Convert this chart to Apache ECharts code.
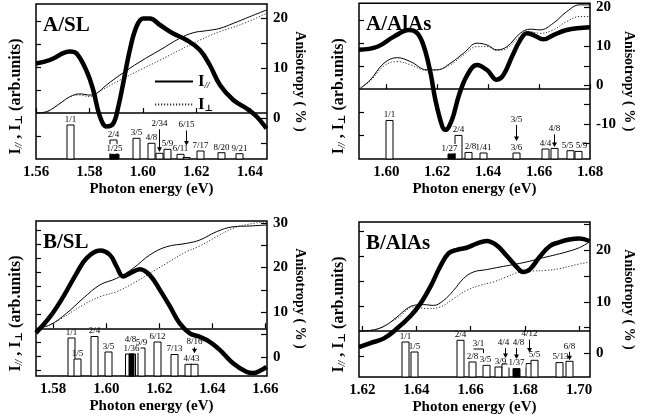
<!DOCTYPE html>
<html>
<head>
<meta charset="utf-8">
<script src="https://cdn.jsdelivr.net/npm/echarts@6/dist/echarts.min.js"></script>
<style>
html, body { margin: 0; padding: 0; background: #fff; }
#chart { width: 657px; height: 420px; }
</style>
</head>
<body>
<div id="chart"></div>
<script>
var FONT = '"Liberation Serif", "DejaVu Serif", serif';

// ---------- A/SL ----------
var aslAniso = [[1.5600,10.9],[1.5652,11.6],[1.5727,13.3],[1.5752,12.9],[1.5790,9.3],[1.5814,5.6],[1.5839,0.3],[1.5864,-1.7],[1.5889,-1.1],[1.5908,2.3],[1.5926,6.9],[1.5951,13.6],[1.5976,18.3],[1.6001,19.9],[1.6026,19.9],[1.6064,18.6],[1.6113,16.9],[1.6163,15.6],[1.6213,13.6],[1.6250,10.6],[1.6288,6.6],[1.6338,3.6],[1.6388,1.9],[1.6425,0.3],[1.6462,-2.1]];
var aslIpar = [[1.5600,0],[1.5640,0.06],[1.5690,0.42],[1.5727,0.71],[1.5764,0.83],[1.5802,0.78],[1.5827,0.86],[1.5864,1.22],[1.5914,1.65],[1.5989,2.23],[1.6064,2.74],[1.6138,3.25],[1.6188,3.49],[1.6238,3.58],[1.6288,3.68],[1.6338,3.90],[1.6400,4.19],[1.6462,4.48]];
var aslIperp = [[1.5600,0],[1.5640,0.06],[1.5727,0.70],[1.5764,0.78],[1.5802,0.71],[1.5839,0.95],[1.5914,1.43],[1.5989,1.87],[1.6064,2.30],[1.6138,2.74],[1.6213,3.17],[1.6288,3.54],[1.6363,3.83],[1.6462,4.33]];
var aslBarName = ['1/1','2/4','1/25','3/5','4/8','2/34','5/9','6/11','6/15','7/17','8/20','9/21'];
var aslBarE = [1.5728,1.5887,1.5890,1.5975,1.6030,1.6059,1.6091,1.6137,1.6160,1.6214,1.6293,1.6358];
var aslBarH = [34,19,4.7,20.7,15.7,5.7,9.7,4.7,1.5,8,6.3,5.3];
var aslFilled = ['1/25'];

// ---------- A/AlAs ----------
var aalAniso = [[1.5893,9.1],[1.5965,9.9],[1.6030,12.5],[1.6089,14.2],[1.6122,13.4],[1.6148,9.9],[1.6174,3.1],[1.6193,-3.8],[1.6220,-10.6],[1.6232,-11.5],[1.6258,-8.9],[1.6284,-2.9],[1.6318,2.6],[1.6356,5.2],[1.6396,3.9],[1.6434,1.4],[1.6460,2.6],[1.6494,7.4],[1.6526,11.6],[1.6552,13.4],[1.6578,12.9],[1.6618,11.8],[1.6656,12.9],[1.6708,14.2],[1.6800,14.9]];
var aalIpar = [[1.5893,0],[1.5937,0.40],[1.5991,1.13],[1.6043,1.37],[1.6095,1.20],[1.6160,0.84],[1.6200,0.84],[1.6252,1.13],[1.6304,1.57],[1.6356,2.00],[1.6396,1.92],[1.6434,1.71],[1.6474,1.85],[1.6526,2.43],[1.6565,2.61],[1.6604,2.58],[1.6656,2.87],[1.6708,3.37],[1.6760,3.67],[1.6800,3.67]];
var aalIperp = [[1.5893,0],[1.5937,0.35],[1.5991,1.01],[1.6043,1.20],[1.6095,1.06],[1.6160,0.81],[1.6200,0.84],[1.6252,1.06],[1.6304,1.49],[1.6356,1.85],[1.6396,1.85],[1.6434,1.68],[1.6474,1.78],[1.6526,2.29],[1.6565,2.50],[1.6604,2.43],[1.6656,2.58],[1.6708,2.94],[1.6760,3.16],[1.6800,3.16]];
var aalBarName = ['1/1','1/27','2/4','2/8','1/41','3/6','3/5','4/4','4/8','5/5','5/9'];
var aalBarE = [1.6011,1.6254,1.6283,1.6320,1.6381,1.6509,1.6509,1.6625,1.6660,1.6721,1.6753];
var aalBarH = [38.6,5,23.6,6.6,6,6,0,10,10.6,8.3,7.6];
var aalFilled = ['1/27'];

// ---------- B/SL ----------
var bslAniso = [[1.5735,5.4],[1.5788,9.0],[1.5838,13.5],[1.5888,18.7],[1.5926,22.1],[1.5976,23.8],[1.6014,22.8],[1.6039,20.2],[1.6064,18.0],[1.6089,18.7],[1.6127,19.6],[1.6164,18.3],[1.6202,15.0],[1.6240,11.3],[1.6277,7.5],[1.6315,5.3],[1.6353,4.5],[1.6390,3.4],[1.6428,1.6],[1.6478,-1.4],[1.6528,-3.3],[1.6553,-3.6],[1.6585,-2.9],[1.6604,-2.2]];
var bslIpar = [[1.5735,0],[1.5788,0.17],[1.5850,0.75],[1.5913,1.50],[1.5976,2.17],[1.6039,2.50],[1.6101,3.00],[1.6164,3.67],[1.6227,4.08],[1.6302,4.25],[1.6353,4.42],[1.6415,4.83],[1.6478,5.08],[1.6541,5.12],[1.6604,5.17]];
var bslIperp = [[1.5735,0],[1.5788,0.17],[1.5913,1.17],[1.5976,1.58],[1.6039,1.83],[1.6101,2.25],[1.6164,2.75],[1.6227,3.25],[1.6302,3.83],[1.6353,4.12],[1.6415,4.58],[1.6478,5.00],[1.6541,5.22],[1.6604,5.33]];
var bslBarName = ['1/1','1/5','2/4','3/5','4/8','1/36','5/9','6/12','7/13','4/43','8/16'];
var bslBarE = [1.5866,1.5889,1.5954,1.6008,1.6090,1.6092,1.6131,1.6190,1.6254,1.6308,1.6332];
var bslBarH = [38,17,39.5,24,22,22,28,34,21.5,11.7,11.7];
var bslFilled = ['1/36'];

// ---------- B/AlAs ----------
var balAniso = [[1.6188,1.2],[1.6230,2.0],[1.6280,2.9],[1.6328,4.8],[1.6377,7.2],[1.6414,9.6],[1.6451,12.9],[1.6487,16.8],[1.6518,19.4],[1.6549,20.1],[1.6585,20.5],[1.6622,21.3],[1.6659,21.8],[1.6695,21.0],[1.6732,19.0],[1.6769,16.8],[1.6793,15.8],[1.6818,16.3],[1.6854,18.7],[1.6891,20.8],[1.6928,21.6],[1.6964,22.1],[1.7001,22.3],[1.7038,21.8]];
var balIpar = [[1.6188,0],[1.6230,0.03],[1.6280,0.23],[1.6328,0.70],[1.6365,1.12],[1.6390,1.28],[1.6427,1.32],[1.6463,1.28],[1.6500,1.53],[1.6537,2.03],[1.6573,2.62],[1.6610,2.95],[1.6659,3.07],[1.6708,3.20],[1.6757,3.32],[1.6805,3.45],[1.6854,3.62],[1.6903,3.78],[1.6952,3.95],[1.7001,4.17],[1.7038,4.45]];
var balIperp = [[1.6188,0],[1.6230,0.03],[1.6328,0.62],[1.6390,1.20],[1.6439,1.12],[1.6487,1.20],[1.6537,1.62],[1.6585,2.03],[1.6634,2.28],[1.6683,2.45],[1.6732,2.70],[1.6781,2.95],[1.6830,3.00],[1.6879,3.03],[1.6928,3.12],[1.6977,3.28],[1.7038,3.45]];
var balBarName = ['1/1','1/5','2/4','2/8','3/1','3/5','3/9','4/4','1/37','4/8','4/12','5/5','5/13','6/8'];
var balBarE = [1.6359,1.6391,1.6560,1.6604,1.6627,1.6655,1.6702,1.6725,1.6766,1.6767,1.6814,1.6835,1.6924,1.6964];
var balBarH = [35,25,36.7,15,0,11.7,10,13,8.4,0,13.4,16.7,14.4,15.7];
var balFilled = ['1/37'];

// label / arrow tweaks (style only)
var aslTweak = { '1/25': {bg: true, w: 9}, '2/34': {arrow: [24, 1.5]}, '6/15': {arrow: [27, 12]} };
var aalTweak = { '1/27': {bg: true, dx: -2}, '2/8': {bg: true, dx: 2}, '3/5': {arrow: [34, 18]}, '4/8': {arrow: [14, 1.5]}, '5/5': {dx: -3}, '5/9': {dx: 3} };
var bslTweak = { '4/8': {w: 10, dy: -9}, '1/36': {w: 5, bg: true}, '4/43': {dx: 3}, '8/16': {arrow: [17, 11]} };
var balTweak = { '3/1': {bracket: 28}, '3/5': {bg: true, dx: -1}, '3/9': {dx: 2}, '4/4': {arrow: [16, 6], dx: -2}, '1/37': {bg: true}, '4/8': {arrow: [29, 18], dx: 2}, '4/12': {arrow: [24, 11]}, '5/13': {dx: 1}, '6/8': {arrow: [9.5, 1]} };

var panels = [
	{ title: 'A/SL', box: [36, 4, 231, 155], xMin: 1.56, xMax: 1.6464, xTicks: [1.56, 1.58, 1.60, 1.62, 1.64],
	  iMin: -2.0, iMax: 4.74, iTicks: [-1, 1, 2, 3, 4],
	  aMin: -8.2, aMax: 22.8, aTicks: [-5, 0, 5, 10, 15, 20], aLabels: [0, 10, 20], rGap: 26,
	  aniso: aslAniso, ipar: aslIpar, iperp: aslIperp, barName: aslBarName, barE: aslBarE, barH: aslBarH, filled: aslFilled, tweak: aslTweak },
	{ title: 'A/AlAs', box: [359, 3, 231, 156], xMin: 1.5893, xMax: 1.68, xTicks: [1.60, 1.62, 1.64, 1.66, 1.68],
	  iMin: -3.04, iMax: 3.74, iTicks: [-2, -1, 1, 2, 3],
	  aMin: -19.0, aMax: 21.1, aTicks: [-15, -10, -5, 0, 5, 10, 15, 20], aLabels: [-10, 0, 10, 20], rGap: 32,
	  aniso: aalAniso, ipar: aalIpar, iperp: aalIperp, barName: aalBarName, barE: aalBarE, barH: aalBarH, filled: aalFilled, tweak: aalTweak },
	{ title: 'B/SL', box: [36, 221, 231, 155], xMin: 1.5735, xMax: 1.6606, xTicks: [1.58, 1.60, 1.62, 1.64, 1.66],
	  iMin: -2.39, iMax: 5.37, iTicks: [-2.1, -1.4, -0.7, 0.7, 1.4, 2.1, 2.8, 3.5, 4.2, 4.9],
	  aMin: -4.25, aMax: 30.4, aTicks: [0, 5, 10, 15, 20, 25, 30], aLabels: [0, 10, 20, 30], rGap: 26,
	  aniso: bslAniso, ipar: bslIpar, iperp: bslIperp, barName: bslBarName, barE: bslBarE, barH: bslBarH, filled: bslFilled, tweak: bslTweak },
	{ title: 'B/AlAs', box: [359, 222, 231, 155], xMin: 1.6188, xMax: 1.704, xTicks: [1.62, 1.64, 1.66, 1.68, 1.70],
	  iMin: -2.3, iMax: 5.45, iTicks: [-1.25, 1.25, 2.5, 3.75, 5],
	  aMin: -4.6, aMax: 25.5, aTicks: [0, 5, 10, 15, 20, 25], aLabels: [0, 10, 20], rGap: 32,
	  aniso: balAniso, ipar: balIpar, iperp: balIperp, barName: balBarName, barE: balBarE, barH: balBarH, filled: balFilled, tweak: balTweak }
];

var boldText = { fontFamily: FONT, fontWeight: 'bold', color: '#000' };
var subRich = {
	b: { fontFamily: FONT, fontWeight: 'bold', fontSize: 16, color: '#000' },
	s: { fontFamily: FONT, fontWeight: 'bold', fontStyle: 'italic', fontSize: 10, color: '#000', verticalAlign: 'bottom', padding: [7, 0, 0, 0] }
};

/**
 * 振子强度竖条, 标签, 箭头
 */
var barRenderer = function(p){
	return function(params, api){
		var i = api.value(2);
		var name = p.barName[i];
		var t = p.tweak[name] || {};
		var filled = p.filled.indexOf(name) >= 0;
		var base = api.coord([api.value(0), 0]);
		var top = api.coord([api.value(0), api.value(1)]);
		var x = Math.round(base[0]) + 0.5;
		var w = t.w || 7;
		var kids = [];
		if (api.value(1) > 0) {
			kids.push({ type: 'rect', z2: filled ? 2 : 1,
				shape: { x: x - w / 2, y: top[1], width: w, height: base[1] - top[1] },
				style: { fill: filled ? '#000' : '#fff', stroke: '#000', lineWidth: 1 } });
		}
		var ly = top[1] - 1;
		if (t.arrow) {
			var y0 = top[1] - t.arrow[0], y1 = top[1] - t.arrow[1];
			kids.push({ type: 'line', z2: 3, shape: { x1: x, y1: y0, x2: x, y2: y1 - 3 }, style: { stroke: '#000', lineWidth: 1 } });
			kids.push({ type: 'polygon', z2: 3, shape: { points: [[x - 2.5, y1 - 4.5], [x + 2.5, y1 - 4.5], [x, y1]] }, style: { fill: '#000' } });
			ly = y0 - 1;
		}
		if (t.bracket) {
			var yb = top[1] - t.bracket;
			kids.push({ type: 'polyline', z2: 3, shape: { points: [[x - 5, yb], [x + 5, yb], [x + 5, yb + 4]] }, style: { stroke: '#000', lineWidth: 1, fill: null } });
			ly = yb - 1;
		}
		kids.push({ type: 'text', z2: 10, style: {
			text: name, x: x + (t.dx || 0), y: ly + (t.dy || 0), align: 'center', verticalAlign: 'bottom',
			font: '9px ' + FONT, fill: '#000',
			backgroundColor: t.bg ? '#fff' : 'transparent', padding: t.bg ? [0, 1, 0, 1] : 0 } });
		return { type: 'group', children: kids };
	};
};

var grid = [], xAxis = [], yAxis = [], series = [], title = [];
panels.forEach(function(p, k){
	grid.push({ left: p.box[0], top: p.box[1], width: p.box[2], height: p.box[3], show: true,
		borderColor: '#000', borderWidth: 1.5, backgroundColor: 'transparent' });
	title.push({ text: p.title, left: p.box[0] + 2, top: p.box[1] + 6,
		textStyle: { fontFamily: FONT, fontWeight: 'bold', fontSize: 21, color: '#000' } });
	xAxis.push({ gridIndex: k, type: 'value', min: p.xMin, max: p.xMax,
		axisLine: { show: false }, splitLine: { show: false },
		axisTick: { inside: true, length: 5, customValues: p.xTicks, lineStyle: { color: '#000', width: 1.2 } },
		axisLabel: { customValues: p.xTicks, margin: 6, fontSize: 15, fontFamily: FONT, fontWeight: 'bold', color: '#000',
			formatter: function(v){ return v.toFixed(2); } },
		name: 'Photon energy (eV)', nameLocation: 'middle', nameGap: 23,
		nameTextStyle: Object.assign({ fontSize: 15 }, boldText) });
	// 强度轴 (左)
	yAxis.push({ gridIndex: k, type: 'value', position: 'left', min: p.iMin, max: p.iMax,
		axisLine: { show: false }, splitLine: { show: false }, axisLabel: { show: false },
		axisTick: { inside: true, length: 5, customValues: p.iTicks, lineStyle: { color: '#000', width: 1.2 } },
		name: '{b|I}{s|//}{b| , I}{s|\u22a5}{b| (arb.units)}', nameLocation: 'middle', nameRotate: 90, nameGap: 12,
		nameTextStyle: { rich: subRich, padding: [0, 30, 0, 0] } });
	// 各向异性轴 (右)
	yAxis.push({ gridIndex: k, type: 'value', position: 'right', min: p.aMin, max: p.aMax,
		axisLine: { show: false }, splitLine: { show: false },
		axisTick: { inside: true, length: 6, customValues: p.aTicks, lineStyle: { color: '#000', width: 1.2 } },
		axisLabel: { customValues: p.aLabels, margin: 6, fontSize: 15, fontFamily: FONT, fontWeight: 'bold', color: '#000' },
		name: 'Anisotropy ( % )', nameLocation: 'middle', nameRotate: -90, nameGap: p.rGap,
		nameTextStyle: Object.assign({ fontSize: 14 }, boldText) });
	// 竖条轴 (隐藏)
	yAxis.push({ gridIndex: k, type: 'value', show: false, min: 0, max: p.box[3] });

	series.push({ name: p.title + ' I//', type: 'line', xAxisIndex: k, yAxisIndex: 3 * k, data: p.ipar,
		symbol: 'none', smooth: 0.4, z: 3, lineStyle: { color: '#000', width: 1 },
		itemStyle: { color: 'rgba(0,0,0,0)' },
		markLine: { silent: true, symbol: 'none', label: { show: false }, lineStyle: { color: '#000', width: 1.5, type: 'solid' },
			data: [{ yAxis: 0 }] } });
	series.push({ name: p.title + ' I\u22a5', type: 'line', xAxisIndex: k, yAxisIndex: 3 * k, data: p.iperp,
		symbol: 'none', smooth: 0.4, z: 3, lineStyle: { color: '#333', width: 1, type: [1.2, 1.8] },
		itemStyle: { color: 'rgba(0,0,0,0)' } });
	series.push({ name: p.title + ' anisotropy', type: 'line', xAxisIndex: k, yAxisIndex: 3 * k + 1, data: p.aniso,
		symbol: 'none', smooth: 0.4, z: 4, lineStyle: { color: '#000', width: 4.5 } });
	series.push({ name: p.title + ' bars', type: 'custom', xAxisIndex: k, yAxisIndex: 3 * k + 2, z: 2, silent: true,
		data: p.barE.map(function(e, i){ return [e, p.barH[i], i]; }),
		renderItem: barRenderer(p) });
});

var chart = echarts.init(document.getElementById('chart'), null, { renderer: 'canvas' });
chart.setOption({
	animation: false,
	backgroundColor: '#fff',
	title: title,
	legend: { data: ['A/SL I//', 'A/SL I\u22a5'], orient: 'vertical', left: 149, top: 68, itemWidth: 38, itemHeight: 10, itemGap: 6,
		selectedMode: false, itemStyle: { opacity: 0 },
		formatter: function(n){ return n.indexOf('//') >= 0 ? '{i|I}{s|//}' : '{i|I}{s|\u22a5}'; },
		textStyle: { rich: {
			i: { fontFamily: FONT, fontWeight: 'bold', fontSize: 17, color: '#000' },
			s: { fontFamily: FONT, fontStyle: 'italic', fontWeight: 'bold', fontSize: 9, color: '#000', verticalAlign: 'bottom', padding: [8, 0, 0, 0] } } } },
	grid: grid, xAxis: xAxis, yAxis: yAxis, series: series
});
</script>
</body>
</html>
